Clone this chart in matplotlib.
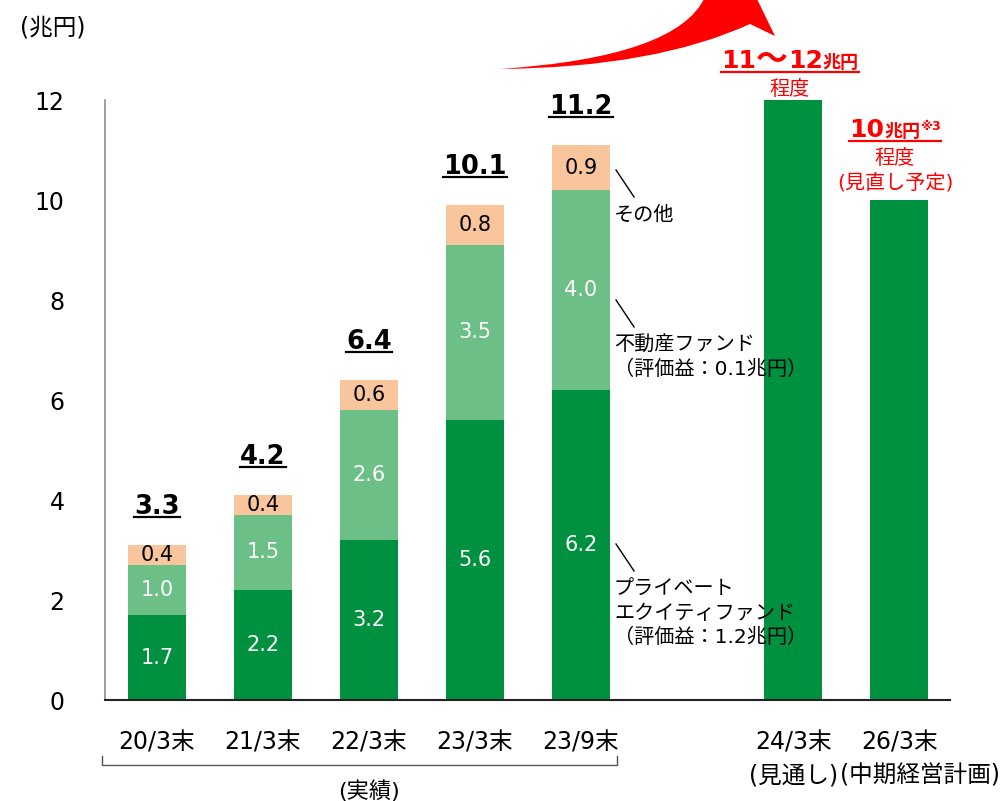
import matplotlib
matplotlib.use('Agg')
import matplotlib.pyplot as plt
from matplotlib.path import Path
from matplotlib.patches import PathPatch
from matplotlib.lines import Line2D
from matplotlib.transforms import IdentityTransform

plt.rcParams['font.family'] = ['DejaVu Sans', 'Noto Sans CJK JP']

# ---- data ----
categories = ['20/3末', '21/3末', '22/3末', '23/3末', '23/9末']
pe_values = [1.7, 2.2, 3.2, 5.6, 6.2]
re_values = [1.0, 1.5, 2.6, 3.5, 4.0]
other_values = [0.4, 0.4, 0.6, 0.8, 0.9]
total_labels = ['3.3', '4.2', '6.4', '10.1', '11.2']
plan_categories = ['24/3末', '26/3末']
plan_sub = ['(見通し)', '(中期経営計画)']
plan_values = [12, 10]
yticks = [0, 2, 4, 6, 8, 10, 12]

C_PE = '#009140'
C_RE = '#6CBF86'
C_OT = '#F9C59C'
RED = '#FF0000'

W, H = 1000, 801
fig = plt.figure(figsize=(W / 100, H / 100), dpi=100)
ax = fig.add_axes([105 / W, 1 - 700 / H, 845 / W, 600 / H])

xa = list(range(len(categories)))
xp = [len(categories) + 1 + i for i in range(len(plan_categories))]
bw = 0.54

bottom2 = [a + b for a, b in zip(pe_values, re_values)]
ax.bar(xa, pe_values, bw, color=C_PE, zorder=2)
ax.bar(xa, re_values, bw, bottom=pe_values, color=C_RE, zorder=2)
ax.bar(xa, other_values, bw, bottom=bottom2, color=C_OT, zorder=2)
ax.bar(xp, plan_values, bw, color=C_PE, zorder=2)

for i in xa:
    ax.text(i, pe_values[i] / 2, f'{pe_values[i]:.1f}', ha='center', va='center',
            color='white', fontsize=15, zorder=3)
    ax.text(i, pe_values[i] + re_values[i] / 2, f'{re_values[i]:.1f}', ha='center',
            va='center', color='white', fontsize=15, zorder=3)
    ax.text(i, bottom2[i] + other_values[i] / 2, f'{other_values[i]:.1f}', ha='center',
            va='center', color='black', fontsize=15, zorder=3)

ax.set_xlim(-0.49, 7.48)
ax.set_ylim(0, 12)
ax.set_yticks(yticks)
ax.set_yticklabels([str(v) for v in yticks], fontsize=17)
ax.tick_params(axis='y', length=0, pad=29)
ax.set_xticks(xa + xp)
ax.set_xticklabels(categories + plan_categories, fontsize=17)
ax.tick_params(axis='x', length=0, pad=22)
for s in ['top', 'right']:
    ax.spines[s].set_visible(False)
ax.spines['left'].set_color('#8C8C8C')
ax.spines['left'].set_linewidth(1.2)
ax.spines['bottom'].set_color('#222222')
ax.spines['bottom'].set_linewidth(1.5)

# sub labels for plan
xt = ax.get_xaxis_transform()
for x, s in zip(xp, plan_sub):
    ax.text(x + (0.0 if x == xp[0] else 0.2), -0.125, s, transform=xt, ha='center',
            va='center', fontsize=17)
ax.text(2, -0.152, '(実績)', transform=xt, ha='center', va='center', fontsize=16)
# bracket
bx0, bx1 = -0.52, 4.34
ax.plot([bx0, bx0, bx1, bx1], [-0.094, -0.108, -0.108, -0.094], transform=xt,
        color='#555555', lw=1.0, clip_on=False)

fig.text(20 / W, 1 - 27 / H, '(兆円)', ha='left', va='center', fontsize=17)

# annotations for the last bar
last = len(categories) - 1
ann_y = [bottom2[last] + other_values[last] / 2 - 0.05,
         pe_values[last] + re_values[last] / 2 - 0.2,
         pe_values[last] / 2 + 0.02]
ann_txt = ['その他', '不動産ファンド\n（評価益：0.1兆円）',
           'プライベート\nエクイティファンド\n（評価益：1.2兆円）']
x0 = last + bw / 2 + 0.06
for y0, s in zip(ann_y, ann_txt):
    ax.plot([x0, x0 + 0.17], [y0, y0 - 0.54], color='black', lw=1.0, zorder=3)
    ax.text(x0 - 0.02, y0 - 0.72, s, ha='left', va='top', fontsize=14.5,
            linespacing=1.32, zorder=4)

# totals
tot_texts = []
for i in xa:
    top = bottom2[i] + other_values[i]
    t = ax.annotate(total_labels[i], xy=(i, top), xytext=(0, 22.5),
                    textcoords='offset points', ha='center', va='baseline',
                    fontsize=18.5, fontweight='bold', zorder=4)
    tot_texts.append((t, i, top))

fig.canvas.draw()
renderer = fig.canvas.get_renderer()
ID = IdentityTransform()

for t, i, top in tot_texts:
    bb = t.get_window_extent(renderer)
    xd, yd = ax.transData.transform((i, top))
    yb = yd + 22.5 * 100 / 72 - 3.5
    fig.add_artist(Line2D([bb.x0, bb.x1], [yb, yb], transform=ID, color='black', lw=1.6))


def rich(parts, cx, y_top, color, underline=False):
    yb = H - y_top
    items = []
    for s, size, weight, dy in parts:
        tt = fig.text(0, 0, s, fontsize=size, fontweight=weight, color=color,
                      transform=ID, ha='left', va='baseline')
        items.append((tt, dy))
    widths = [tt.get_window_extent(renderer).width for tt, _ in items]
    tot = sum(widths)
    x = cx - tot / 2
    for (tt, dy), w in zip(items, widths):
        tt.set_position((x, yb + dy))
        x += w
    if underline:
        fig.add_artist(Line2D([cx - tot / 2, cx + tot / 2], [yb - 3.5, yb - 3.5],
                              transform=ID, color=color, lw=1.6))


rich([('11', 18, 'bold', 0), ('～', 23, 'bold', 0), ('12', 18, 'bold', 0),
      ('兆円', 13, 'bold', 0)], 790, 68, RED, underline=True)
rich([('程度', 14.5, 'normal', 0)], 790, 95, RED)
rich([('10', 18, 'bold', 0), ('兆円', 13, 'bold', 0), ('※3', 9, 'bold', 7)],
     895, 137, RED, underline=True)
rich([('程度', 14.5, 'normal', 0)], 895, 164, RED)
rich([('(見直し予定)', 14.5, 'normal', 0)], 895, 190, RED)

# big red arrow (decoration)
pts = [(500, 69), (655, 67.5), (750, 24), (775, 36), (738, -40), (685, -10),
       (705, -3), (677.5, 57), (500, 69), (500, 69)]
codes = [Path.MOVETO, Path.CURVE3, Path.CURVE3, Path.LINETO, Path.LINETO,
         Path.LINETO, Path.LINETO, Path.CURVE3, Path.CURVE3, Path.CLOSEPOLY]
verts = [(x, H - y) for x, y in pts]
fig.add_artist(PathPatch(Path(verts, codes), transform=ID, facecolor=RED,
                         edgecolor='none'))

fig.savefig('out.png', dpi=100)
